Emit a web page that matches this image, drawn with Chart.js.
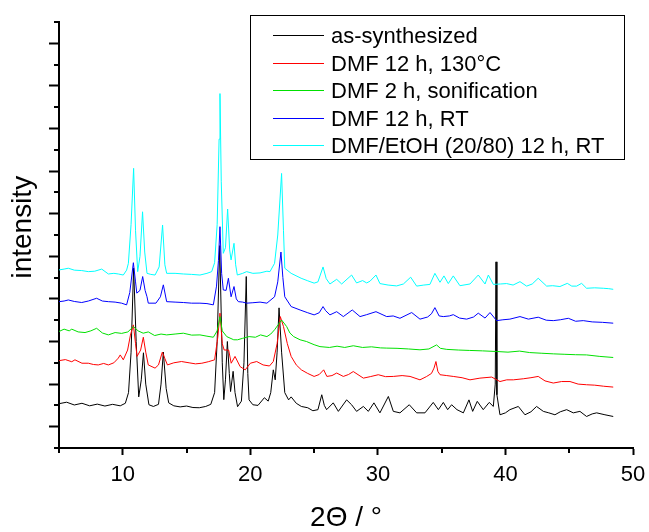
<!DOCTYPE html>
<html>
<head>
<meta charset="utf-8">
<script src="https://cdn.jsdelivr.net/npm/chart.js@4.4.1/dist/chart.umd.min.js"></script>
<style>
  html, body { margin: 0; padding: 0; background: #fff; }
  canvas { display: block; }
</style>
</head>
<body>
<canvas id="xrdChart" width="649" height="532"></canvas>
<script>
// series labels and colours (legend order)
const seriesNames = ['as-synthesized', 'DMF 12 h, 130°C', 'DMF 2 h, sonification', 'DMF 12 h, RT', 'DMF/EtOH (20/80) 12 h, RT'];
const seriesColors = ['#000000', '#ff0000', '#00e000', '#0000ff', '#00ffff'];

// [2Theta, intensity (a.u., offset stacked)]
const asSynth = [[5.0,2.08],[5.6,2.15],[6.2,2.02],[6.8,2.1],[7.4,1.98],[8.0,2.06],[8.6,1.97],[9.2,2.05],[9.8,1.98],[10.2,2.1],[10.45,2.6],[10.65,4.5],[10.85,8.45],[11.05,5.0],[11.25,2.4],[11.45,3.2],[11.62,4.47],[11.8,3.0],[12.05,2.03],[12.4,1.95],[12.8,2.05],[13.0,3.0],[13.18,4.5],[13.4,2.8],[13.6,2.12],[14.0,1.98],[14.5,1.93],[15.0,1.97],[15.5,1.9],[16.0,1.89],[16.5,1.95],[16.9,2.05],[17.2,2.6],[17.4,5.0],[17.6,9.5],[17.8,4.0],[17.92,2.27],[18.05,3.2],[18.2,5.0],[18.35,3.5],[18.45,2.65],[18.65,3.6],[18.8,2.6],[19.0,1.94],[19.3,2.2],[19.5,4.0],[19.68,8.05],[19.8,3.5],[19.9,2.26],[20.2,2.03],[20.6,2.0],[21.1,2.36],[21.4,2.2],[21.6,2.6],[21.8,3.67],[21.95,3.2],[22.1,4.5],[22.25,6.58],[22.45,4.5],[22.7,2.6],[23.0,2.26],[23.2,2.4],[23.6,2.1],[24.0,1.95],[24.5,1.89],[24.9,1.75],[25.3,1.8],[25.6,2.5],[25.8,2.0],[25.98,1.8],[26.5,2.12],[26.9,1.72],[27.55,2.26],[27.94,2.03],[28.33,1.72],[28.86,1.95],[29.25,1.72],[29.69,2.12],[30.16,1.65],[30.82,2.42],[31.21,1.72],[31.73,1.65],[32.46,2.03],[33.04,1.65],[33.69,1.65],[34.34,2.14],[34.74,1.8],[35.13,2.14],[35.47,1.8],[35.78,2.03],[36.2,1.8],[36.7,1.65],[37.14,2.26],[37.43,1.72],[37.79,2.19],[38.26,1.8],[38.73,2.14],[39.05,1.95],[39.2,3.0],[39.26,8.74],[39.33,2.5],[39.57,1.56],[40.0,1.65],[40.35,1.8],[41.01,1.95],[41.53,1.56],[42.0,1.7],[42.44,1.95],[42.97,1.72],[43.4,1.65],[43.88,1.56],[44.3,1.7],[44.8,1.8],[45.32,1.65],[45.84,1.72],[46.36,1.48],[46.8,1.6],[47.15,1.65],[47.8,1.56],[48.45,1.48]];

const dmf130 = [[5.0,4.1],[5.5,4.15],[6.0,4.05],[6.25,4.14],[6.8,3.98],[7.3,3.98],[7.7,3.92],[8.08,3.9],[8.5,3.97],[8.87,3.9],[9.3,4.0],[9.65,4.22],[9.8,4.37],[10.04,4.14],[10.38,4.6],[10.6,5.3],[10.83,5.78],[11.0,4.9],[11.12,4.3],[11.4,4.6],[11.61,5.2],[11.8,4.5],[12.0,3.9],[12.53,3.75],[12.8,3.9],[13.1,4.5],[13.3,4.2],[13.5,3.9],[14.0,4.0],[14.6,4.06],[15.2,4.0],[15.7,3.95],[16.2,3.98],[16.7,4.05],[17.2,4.14],[17.45,5.2],[17.62,6.33],[17.8,4.9],[17.95,4.6],[18.3,4.6],[18.5,3.98],[18.8,4.3],[19.2,3.82],[19.6,3.67],[20.0,3.98],[20.5,4.06],[21.0,3.9],[21.5,3.85],[21.8,4.06],[22.1,4.9],[22.35,6.17],[22.6,5.7],[22.9,4.9],[23.2,4.3],[23.6,3.9],[24.0,3.67],[24.5,3.5],[25.0,3.36],[25.4,3.45],[25.75,3.67],[26.0,3.36],[26.4,3.4],[26.77,3.52],[27.29,3.36],[27.7,3.45],[28.07,3.59],[28.86,3.28],[29.4,3.35],[30.03,3.44],[30.6,3.35],[31.21,3.36],[31.9,3.4],[32.52,3.36],[33.3,3.2],[33.8,3.35],[34.2,3.5],[34.4,3.75],[34.55,4.06],[34.7,3.6],[34.87,3.44],[35.4,3.4],[35.91,3.36],[36.6,3.3],[37.22,3.2],[38.0,3.28],[38.92,3.33],[39.57,3.12],[40.1,3.2],[40.62,3.2],[41.4,3.25],[42.0,3.3],[42.57,3.36],[43.1,3.15],[43.75,3.05],[44.4,3.12],[45.06,3.12],[45.7,3.0],[46.36,2.97],[47.0,2.95],[47.7,2.9],[48.45,2.86]];

const dmfSonic = [[5.0,5.47],[5.4,5.58],[5.8,5.5],[6.0,5.58],[6.5,5.45],[7.04,5.42],[7.5,5.5],[7.95,5.62],[8.4,5.4],[8.87,5.31],[9.4,5.42],[9.91,5.38],[10.4,5.45],[10.83,5.7],[11.2,5.5],[11.6,5.39],[12.0,5.45],[12.5,5.28],[13.0,5.35],[13.44,5.31],[14.1,5.35],[14.75,5.39],[15.4,5.3],[16.05,5.31],[16.6,5.25],[17.1,5.2],[17.4,5.5],[17.62,6.17],[17.8,5.5],[18.15,5.23],[18.7,5.08],[19.0,5.08],[19.4,5.15],[19.9,5.23],[20.4,5.2],[20.8,5.31],[21.3,5.23],[21.6,5.35],[21.9,5.55],[22.2,5.8],[22.45,6.01],[22.85,5.7],[23.1,5.4],[23.4,5.23],[23.9,5.08],[24.4,5.0],[25.0,4.85],[25.46,4.76],[26.2,4.72],[26.8,4.78],[27.4,4.72],[28.07,4.8],[28.8,4.72],[29.5,4.75],[30.2,4.7],[30.7,4.69],[31.5,4.68],[32.4,4.65],[33.3,4.61],[34.0,4.65],[34.6,4.84],[34.9,4.68],[35.4,4.63],[36.3,4.6],[37.2,4.58],[38.2,4.56],[39.3,4.53],[40.2,4.5],[41.1,4.55],[41.9,4.48],[42.8,4.45],[43.75,4.42],[44.6,4.4],[45.5,4.38],[46.36,4.37],[47.4,4.3],[48.45,4.25]];

const dmfRT = [[5.0,6.87],[5.4,6.9],[5.73,6.95],[6.2,6.88],[6.78,6.83],[7.3,6.9],[7.95,7.03],[8.4,6.9],[8.87,6.87],[9.4,6.85],[9.91,6.8],[10.3,6.72],[10.55,7.3],[10.83,8.7],[11.0,7.8],[11.1,7.27],[11.35,7.4],[11.56,8.05],[11.75,7.4],[11.9,7.1],[12.0,6.8],[12.6,6.8],[12.95,7.1],[13.18,7.66],[13.44,6.87],[14.1,6.85],[14.75,6.83],[15.4,6.8],[16.05,6.8],[16.6,6.78],[17.1,6.72],[17.35,7.6],[17.5,8.8],[17.62,10.39],[17.75,8.2],[17.88,7.42],[18.1,7.4],[18.28,7.97],[18.49,7.1],[18.72,7.58],[18.9,7.0],[19.06,6.87],[19.4,6.85],[19.71,6.8],[20.2,6.82],[20.76,6.85],[21.3,6.8],[21.54,6.92],[21.9,7.1],[22.15,7.8],[22.4,9.2],[22.55,8.0],[22.7,7.1],[23.2,6.64],[23.9,6.48],[24.5,6.35],[25.0,6.25],[25.4,6.35],[25.7,6.64],[25.9,6.45],[26.24,6.25],[26.77,6.4],[27.29,6.17],[27.99,6.48],[28.6,6.17],[29.12,6.26],[29.85,6.4],[30.69,6.17],[31.2,6.2],[31.73,6.09],[32.65,6.36],[33.3,6.05],[33.9,6.15],[34.2,6.3],[34.47,6.59],[34.8,6.2],[35.13,6.17],[35.6,6.2],[35.91,6.26],[36.4,6.1],[36.96,6.05],[37.5,6.15],[37.87,6.33],[38.4,6.1],[38.79,6.36],[39.31,5.98],[39.8,6.02],[40.35,6.05],[41.14,6.17],[41.8,6.05],[42.57,6.14],[43.2,6.0],[43.75,5.98],[44.3,6.02],[44.93,6.09],[45.5,5.95],[46.1,5.98],[46.8,5.92],[47.6,5.9],[48.45,5.86]];

const dmfEtOH = [[5.0,8.36],[5.4,8.4],[5.73,8.44],[6.2,8.35],[6.78,8.33],[7.3,8.28],[7.8,8.3],[8.35,8.4],[8.87,8.17],[9.3,8.2],[9.65,8.17],[10.04,8.12],[10.3,8.35],[10.44,8.67],[10.65,10.5],[10.85,13.13],[11.0,10.2],[11.17,8.28],[11.35,9.0],[11.55,11.09],[11.72,9.2],[11.9,8.2],[12.2,8.15],[12.53,8.12],[12.85,8.5],[13.12,10.47],[13.3,8.6],[13.44,8.2],[14.1,8.2],[14.75,8.17],[15.4,8.15],[16.05,8.12],[16.6,8.2],[16.97,8.28],[17.2,8.7],[17.4,10.5],[17.55,14.5],[17.62,16.64],[17.72,12.5],[17.88,9.14],[18.05,9.4],[18.22,11.22],[18.38,9.3],[18.49,8.83],[18.72,9.61],[18.85,8.6],[18.98,8.12],[19.4,8.2],[19.71,8.28],[20.2,8.2],[20.76,8.22],[21.3,8.3],[21.54,8.28],[21.9,8.67],[22.15,10.0],[22.45,12.89],[22.6,10.2],[22.7,8.44],[23.2,8.2],[23.98,7.97],[24.5,7.85],[25.0,7.74],[25.3,7.8],[25.7,8.5],[25.95,7.95],[26.24,7.7],[26.77,7.92],[27.16,7.7],[27.94,8.12],[28.33,7.75],[28.8,7.86],[29.12,7.75],[29.38,7.83],[29.85,8.12],[30.16,7.72],[30.8,7.65],[31.47,7.61],[32.0,7.7],[32.57,8.02],[33.04,7.6],[33.6,7.65],[34.08,7.68],[34.47,8.2],[34.87,7.78],[35.18,8.08],[35.52,7.72],[35.91,8.08],[36.43,7.62],[37.22,7.7],[37.87,8.12],[38.4,7.7],[38.66,8.12],[39.05,7.68],[39.6,7.7],[40.09,7.72],[40.6,7.65],[41.14,7.81],[41.66,7.6],[42.1,7.7],[42.57,7.97],[43.23,7.6],[43.7,7.62],[44.27,7.58],[44.85,7.73],[45.2,7.6],[45.58,7.6],[45.97,7.73],[46.36,7.5],[47.0,7.52],[47.67,7.5],[48.1,7.48],[48.45,7.45]];

const allSeries = [asSynth, dmf130, dmfSonic, dmfRT, dmfEtOH];

// axis ranges / ticks
const xMin = 5, xMax = 50, xStep = 5;
const yMin = 0, yMax = 20, yStep = 1;

const FONT = '"Liberation Sans", Arial, Helvetica, sans-serif';

// short minor ticks + boxed legend, drawn on top
const decorPlugin = {
  id: 'decor',
  afterDraw(chart) {
    const ctx = chart.ctx;
    const xs = chart.scales.x, ys = chart.scales.y;
    const area = chart.chartArea;
    ctx.save();
    ctx.strokeStyle = '#000';
    ctx.lineWidth = 2;
    for (let v = yMin; v <= yMax; v += 2) {
      const py = Math.round(ys.getPixelForValue(v));
      ctx.beginPath();
      ctx.moveTo(area.left - 5, py);
      ctx.lineTo(area.left, py);
      ctx.stroke();
    }
    for (let v = xMin; v <= xMax; v += 10) {
      const px = Math.round(xs.getPixelForValue(v));
      ctx.beginPath();
      ctx.moveTo(px, area.bottom);
      ctx.lineTo(px, area.bottom + 5);
      ctx.stroke();
    }

    // legend box
    const bx = 250, by = 15, bw = 374, bh = 144;
    ctx.fillStyle = '#fff';
    ctx.fillRect(bx, by, bw, bh);
    ctx.lineWidth = 1;
    ctx.strokeStyle = '#000';
    ctx.strokeRect(bx + 0.5, by + 0.5, bw, bh);
    ctx.font = '22px ' + FONT;
    ctx.textBaseline = 'middle';
    ctx.textAlign = 'left';
    chart.data.datasets.forEach((ds, i) => {
      const ry = Math.round(by + 20 + i * 27.6) + 0.5;
      ctx.strokeStyle = ds.borderColor;
      ctx.lineWidth = 1;
      ctx.beginPath();
      ctx.moveTo(273, ry);
      ctx.lineTo(324, ry);
      ctx.stroke();
      ctx.fillStyle = '#000';
      ctx.fillText(ds.label, 331, ry + 1);
    });
    ctx.restore();
  }
};

new Chart(document.getElementById('xrdChart'), {
  type: 'line',
  data: {
    datasets: allSeries.map((s, i) => ({
      label: seriesNames[i],
      data: s.map(p => ({ x: p[0], y: p[1] })),
      borderColor: seriesColors[i],
      borderWidth: 1,
      pointRadius: 0,
      tension: 0,
      fill: false,
      order: allSeries.length - i
    }))
  },
  options: {
    responsive: false,
    animation: false,
    layout: { padding: { left: 0, right: 16, top: 22, bottom: 0 } },
    plugins: {
      legend: { display: false },
      tooltip: { enabled: false }
    },
    scales: {
      x: {
        type: 'linear',
        min: xMin,
        max: xMax,
        border: { display: true, color: '#000', width: 2 },
        grid: {
          drawOnChartArea: false,
          tickLength: 7,
          tickWidth: 2,
          tickColor: c => (c.tick && c.tick.value % 10 === 0) ? '#000' : 'rgba(0,0,0,0)'
        },
        ticks: {
          stepSize: xStep,
          autoSkip: false,
          maxRotation: 0,
          padding: 7,
          color: '#000',
          font: { family: FONT, size: 22 },
          callback: v => (v % 10 === 0 ? String(v) : '')
        },
        title: {
          display: true,
          text: '2Θ / °',
          color: '#000',
          font: { family: FONT, size: 28, lineHeight: 1 },
          padding: { top: 0, bottom: 0 }
        },
        afterFit: s => { s.height = 84; s.paddingLeft = 0; s.paddingRight = 0; }
      },
      y: {
        type: 'linear',
        min: yMin,
        max: yMax,
        border: { display: true, color: '#000', width: 2 },
        grid: {
          drawOnChartArea: false,
          tickLength: 10,
          tickWidth: 2,
          tickColor: c => (c.tick && Math.abs(c.tick.value % 2) === 1) ? '#000' : 'rgba(0,0,0,0)'
        },
        ticks: { stepSize: yStep, display: false },
        title: {
          display: true,
          text: '  intensity',
          color: '#000',
          font: { family: FONT, size: 28, lineHeight: 1.2 },
          padding: { top: 6, bottom: 0 }
        },
        afterFit: s => { s.width = 59; s.paddingTop = 0; s.paddingBottom = 0; }
      }
    }
  },
  plugins: [decorPlugin]
});
</script>
</body>
</html>
